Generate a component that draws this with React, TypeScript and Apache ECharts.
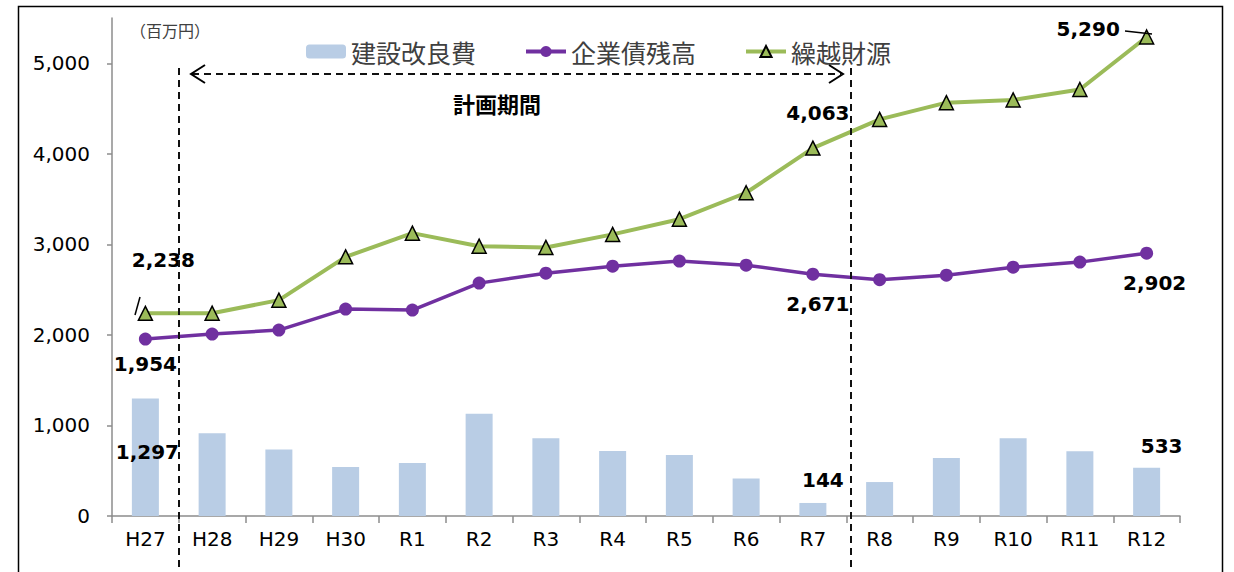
import React, { useEffect, useRef } from "react";
import * as echarts from "echarts";

const categories = ["H27", "H28", "H29", "H30", "R1", "R2", "R3", "R4", "R5", "R6", "R7", "R8", "R9", "R10", "R11", "R12"];
const capex = [1297, 915, 735, 540, 585, 1130, 860, 717, 673, 415, 144, 375, 640, 860, 715, 533];
const bondBalance = [1954, 2009, 2053, 2285, 2274, 2572, 2682, 2759, 2815, 2770, 2671, 2610, 2660, 2748, 2804, 2902];
const carryover = [2238, 2240, 2384, 2862, 3124, 2980, 2966, 3110, 3278, 3570, 4063, 4380, 4565, 4595, 4710, 5290];
const yTicks = [0, 1000, 2000, 3000, 4000, 5000];

const FONT = "'DejaVu Sans', Arial, sans-serif";
const CJK = "'Noto Sans CJK JP', 'Noto Sans', sans-serif";

const labelBase = { show: true, fontFamily: FONT, fontWeight: "bold", fontSize: 20, color: "#000" };

const barLabels: Record<number, any> = {
  0: { position: "inside", offset: [2, -5] },
  10: { position: "top", offset: [10, -8] },
  15: { position: "top", offset: [15, -7] },
};
const bondLabels: Record<number, any> = {
  0: { position: "bottom", offset: [0, 3] },
  10: { position: "bottom", offset: [5, 8] },
  15: { position: "bottom", offset: [8, 8] },
};
const carryLabels: Record<number, any> = {
  0: { position: "top", offset: [18, -31] },
  10: { position: "top", offset: [5, -12] },
  15: { position: "left", offset: [-14, -8] },
};

const fmt = (v: number) => v.toLocaleString("en-US");

function withLabels(values: number[], labels: Record<number, any>) {
  return values.map((v, i) =>
    labels[i]
      ? { value: v, label: { ...labelBase, ...labels[i], formatter: () => fmt(v) } }
      : { value: v }
  );
}

export default function App() {
  const ref = useRef<HTMLDivElement>(null);
  useEffect(() => {
    if (!ref.current) return;
    const chart = echarts.init(ref.current, null, { renderer: "svg" });
    const axisColor = "#8c8c8c";
    chart.setOption({
      animation: false,
      backgroundColor: "#fff",
      grid: { left: 112, right: 54, top: 18, bottom: 56, containLabel: false },
      legend: {
        left: 301,
        top: 34,
        itemGap: 48,
        itemWidth: 40,
        itemHeight: 14,
        textStyle: { fontFamily: CJK, fontSize: 25, color: "#404040" },
        data: [
          { name: "建設改良費" },
          { name: "企業債残高", lineStyle: { width: 4 } },
          { name: "繰越財源", lineStyle: { width: 4 } },
        ],
      },
      xAxis: {
        type: "category",
        data: categories,
        boundaryGap: true,
        axisLine: { lineStyle: { color: axisColor, width: 1.5 } },
        axisTick: { show: true, length: 7, lineStyle: { color: axisColor, width: 1.5 } },
        axisLabel: { fontFamily: FONT, fontSize: 20, color: "#000", margin: 13 },
      },
      yAxis: {
        type: "value",
        min: 0,
        max: 5500,
        interval: 1000,
        splitLine: { show: false },
        axisLine: { show: true, lineStyle: { color: axisColor, width: 1.5 } },
        axisTick: { show: true, length: 5, customValues: yTicks, lineStyle: { color: axisColor, width: 1.5 } },
        axisLabel: {
          fontFamily: FONT,
          fontSize: 20,
          color: "#000",
          margin: 22,
          customValues: yTicks,
          formatter: (v: number) => fmt(v),
        },
      },
      series: [
        {
          name: "建設改良費",
          type: "bar",
          barWidth: 27,
          itemStyle: { color: "#B9CDE5" },
          data: withLabels(capex, barLabels),
          z: 1,
        },
        {
          name: "企業債残高",
          type: "line",
          symbol: "circle",
          symbolSize: 13,
          lineStyle: { color: "#7030A0", width: 3.5 },
          itemStyle: { color: "#7030A0" },
          data: withLabels(bondBalance, bondLabels),
          z: 3,
        },
        {
          name: "繰越財源",
          type: "line",
          symbol: "triangle",
          symbolSize: 14,
          lineStyle: { color: "#9BBB59", width: 4 },
          itemStyle: { color: "#9BBB59", borderColor: "#000", borderWidth: 1.5 },
          data: withLabels(carryover, carryLabels),
          z: 4,
        },
      ],
    });

    const px = (i: number) => chart.convertToPixel({ xAxisIndex: 0 }, categories[i]) as number;
    const x1 = Math.round((px(0) + px(1)) / 2);
    const x2 = Math.round((px(10) + px(11)) / 2) + 5;
    const arrowY = 74;
    const dash = { stroke: "#111", lineWidth: 2, lineDash: [7, 5] };
    const solid = { stroke: "#000", lineWidth: 1.5, fill: null };
    chart.setOption({
      graphic: [
        { type: "rect", shape: { x: 18.5, y: 6.5, width: 1204, height: 620 }, style: { stroke: "#000", lineWidth: 1.5, fill: null }, silent: true },
        { type: "line", shape: { x1, y1: 68, x2: x1, y2: 572 }, style: dash, z: 10 },
        { type: "line", shape: { x1: x2, y1: 68, x2, y2: 572 }, style: dash, z: 10 },
        { type: "line", shape: { x1: x1 + 13, y1: arrowY, x2: x2 - 10, y2: arrowY }, style: dash, z: 10 },
        { type: "polyline", shape: { points: [[x1 + 26, arrowY - 9], [x1 + 12, arrowY], [x1 + 26, arrowY + 9]] }, style: { stroke: "#000", lineWidth: 2, fill: null }, z: 10 },
        { type: "polyline", shape: { points: [[x2 - 22, arrowY - 9], [x2 - 8, arrowY], [x2 - 22, arrowY + 9]] }, style: { stroke: "#000", lineWidth: 2, fill: null }, z: 10 },
        { type: "text", x: (x1 + x2) / 2 - 18, y: 103, style: { text: "計画期間", fontFamily: CJK, fontSize: 22, fontWeight: "bold", fill: "#000", align: "center", verticalAlign: "middle" }, z: 10 },
        { type: "text", x: 130, y: 30, style: { text: "（百万円）", fontFamily: CJK, fontSize: 16, fill: "#404040", align: "left", verticalAlign: "middle" }, z: 10 },
        { type: "line", shape: { x1: 135, y1: 315, x2: 140, y2: 297 }, style: solid, z: 10 },
        { type: "line", shape: { x1: 1125, y1: 31, x2: 1152, y2: 34 }, style: solid, z: 10 },
      ],
    });
    return () => chart.dispose();
  }, []);
  return <div ref={ref} style={{ width: 1234, height: 572, position: "absolute", left: 0, top: 0 }} />;
}
